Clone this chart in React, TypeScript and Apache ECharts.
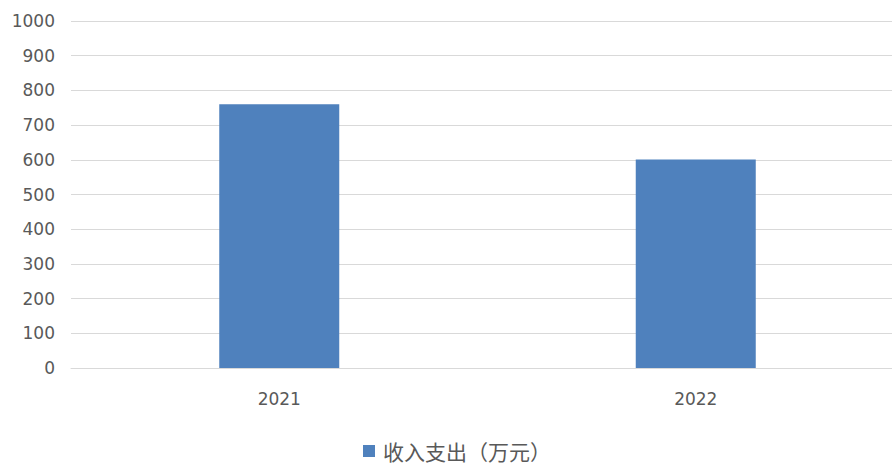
import React, { useEffect, useRef } from "react";
import * as echarts from "echarts";

const categories = ["2021", "2022"];
const seriesName = "收入支出（万元）";
const values = [760, 601];
const yTicks = { min: 0, max: 1000, interval: 100 };

export default function App() {
  const ref = useRef<HTMLDivElement>(null);
  useEffect(() => {
    document.body.style.margin = "0";
    const chart = echarts.init(ref.current!, null, { renderer: "svg" });
    chart.setOption({
      animation: false,
      backgroundColor: "#ffffff",
      grid: { left: 71, right: 0, top: 21, bottom: 98, containLabel: false },
      legend: {
        data: [seriesName],
        top: 440,
        left: 363,
        padding: 0,
        itemWidth: 12,
        itemHeight: 12,
        icon: "rect",
        textStyle: {
          fontFamily: "Noto Sans CJK SC",
          fontSize: 21,
          lineHeight: 22,
          color: "#595959",
          padding: [0, 0, 0, 3],
        },
      },
      xAxis: {
        type: "category",
        data: categories,
        axisLine: { lineStyle: { color: "#d9d9d9", width: 1 } },
        axisTick: { show: false },
        axisLabel: {
          margin: 22,
          fontFamily: "DejaVu Sans",
          fontSize: 17,
          color: "#595959",
        },
      },
      yAxis: {
        type: "value",
        min: yTicks.min,
        max: yTicks.max,
        interval: yTicks.interval,
        axisLine: { show: false },
        axisTick: { show: false },
        splitLine: { lineStyle: { color: "#d9d9d9", width: 1 } },
        axisLabel: {
          margin: 16,
          fontFamily: "DejaVu Sans",
          fontSize: 17,
          color: "#595959",
          formatter: (v: number) => String(v),
        },
      },
      series: [
        {
          name: seriesName,
          type: "bar",
          data: values,
          barWidth: 120,
          itemStyle: { color: "#4f81bd" },
        },
      ],
    });
    return () => chart.dispose();
  }, []);
  return (
    <div style={{ width: 892, height: 466, overflow: "hidden", position: "relative" }}>
      <div ref={ref} style={{ width: 904, height: 466 }} />
    </div>
  );
}
